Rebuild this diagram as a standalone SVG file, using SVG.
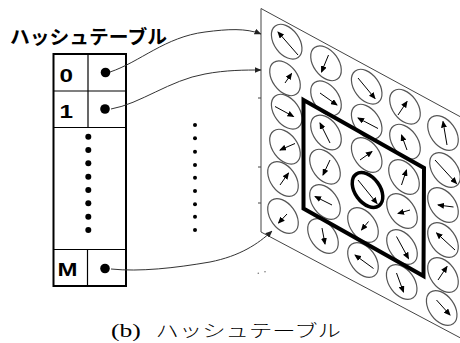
<svg xmlns="http://www.w3.org/2000/svg" xmlns:xlink="http://www.w3.org/1999/xlink" width="460" height="343" viewBox="0 0 460 343">
<style>
.tbl{fill:#fff;stroke:#000;stroke-width:2}
.div{stroke:#000;stroke-width:1.2;fill:none}
.lbl{font-family:"Liberation Sans",Arial,sans-serif;font-weight:bold;font-size:18.5px;fill:#000}
.cell{fill:none;stroke:#555;stroke-width:1.2}
.spin{stroke:#000;stroke-width:1;fill:none;marker-end:url(#ah)}
.conn{stroke:#333;stroke-width:1;fill:none;marker-end:url(#ah2)}
.edge{stroke:#444;stroke-width:1;fill:none}
.title{font-family:"Noto Sans CJK JP","Noto Sans",sans-serif;font-weight:bold;font-size:19px;fill:#000}
.capl{font-family:"Liberation Serif",serif;font-size:19px}
.capj{font-family:"Noto Sans CJK JP",sans-serif;font-weight:300;font-size:17.3px}
</style>
<defs>
<marker id="ah" markerUnits="userSpaceOnUse" markerWidth="7" markerHeight="6" refX="6" refY="3" orient="auto" viewBox="0 0 7 6">
<path d="M0,0 L7,3 L0,6 z" fill="#000"/>
</marker>
<marker id="ah2" markerUnits="userSpaceOnUse" markerWidth="7" markerHeight="6" refX="6.5" refY="3" orient="auto" viewBox="0 0 7 6">
<path d="M0,0 L7,3 L0,6 z" fill="#222"/>
</marker>
<ellipse id="cellshape" cx="0" cy="0" rx="19.5" ry="12.5" transform="rotate(54)"/>
</defs>

<text class="title" x="10" y="44" textLength="157" lengthAdjust="spacingAndGlyphs">ハッシュテーブル</text>

<g id="hash-table">
<rect class="tbl" x="53.5" y="54" width="72.5" height="232"/>
<line class="div" x1="53.5" y1="91" x2="126" y2="91"/>
<line class="div" x1="53.5" y1="127.5" x2="126" y2="127.5"/>
<line class="div" x1="88" y1="54" x2="88" y2="127.5"/>
<line class="div" x1="53.5" y1="249.5" x2="126" y2="249.5"/>
<line class="div" x1="87.5" y1="249.5" x2="87.5" y2="286"/>
<text class="lbl" x="59.5" y="81.5" textLength="13.5" lengthAdjust="spacingAndGlyphs">0</text>
<text class="lbl" x="59.5" y="117.5" textLength="13.5" lengthAdjust="spacingAndGlyphs">1</text>
<text class="lbl" x="57.5" y="276" textLength="20" lengthAdjust="spacingAndGlyphs">M</text>
<circle cx="105.5" cy="72.5" r="4.8"/>
<circle cx="105" cy="109" r="4.8"/>
<circle cx="105" cy="268.5" r="4.8"/>
<g fill="#000">
<circle cx="88.3" cy="136.7" r="3"/>
<circle cx="88.3" cy="150" r="3"/>
<circle cx="88.3" cy="163.3" r="3"/>
<circle cx="88.3" cy="176.7" r="3"/>
<circle cx="88.3" cy="190" r="3"/>
<circle cx="88.3" cy="203.3" r="3"/>
<circle cx="88.3" cy="216.7" r="3"/>
<circle cx="88.3" cy="230" r="3"/>
</g>
</g>

<g id="middle-dots" fill="#000">
<circle cx="195" cy="125" r="2"/>
<circle cx="195" cy="138.3" r="2"/>
<circle cx="195" cy="151.7" r="2"/>
<circle cx="195" cy="165" r="2"/>
<circle cx="195" cy="177.7" r="2"/>
<circle cx="195" cy="191" r="2"/>
<circle cx="195" cy="204.3" r="2"/>
<circle cx="195" cy="216.7" r="2"/>
<circle cx="195" cy="230" r="2"/>
<circle cx="258.3" cy="273.3" r="0.8" fill="#777"/>
<circle cx="265" cy="271.7" r="0.8" fill="#777"/>
</g>

<g id="grid-panel">
<path class="edge" d="M470,122 L261,8.5 L261,232 L470,343"/>
<path class="edge" d="M258,98 H261 M258,167 H261 M258,203 H261"/>
<g class="cell">
<use xlink:href="#cellshape" x="286.7" y="41.7"/>
<use xlink:href="#cellshape" x="285" y="78.3"/>
<use xlink:href="#cellshape" x="286.7" y="111.7"/>
<use xlink:href="#cellshape" x="285" y="146.7"/>
<use xlink:href="#cellshape" x="283" y="179"/>
<use xlink:href="#cellshape" x="283" y="216"/>
<use xlink:href="#cellshape" x="326" y="63.3"/>
<use xlink:href="#cellshape" x="326" y="98.3"/>
<use xlink:href="#cellshape" x="326" y="132.5"/>
<use xlink:href="#cellshape" x="325" y="166.7"/>
<use xlink:href="#cellshape" x="325" y="202"/>
<use xlink:href="#cellshape" x="323" y="236"/>
<use xlink:href="#cellshape" x="366.7" y="86.7"/>
<use xlink:href="#cellshape" x="366.7" y="121.7"/>
<use xlink:href="#cellshape" x="366.7" y="155"/>
<use xlink:href="#cellshape" x="363" y="225"/>
<use xlink:href="#cellshape" x="363" y="260"/>
<use xlink:href="#cellshape" x="405" y="106.7"/>
<use xlink:href="#cellshape" x="405" y="141.7"/>
<use xlink:href="#cellshape" x="404" y="177"/>
<use xlink:href="#cellshape" x="402" y="211"/>
<use xlink:href="#cellshape" x="402" y="247"/>
<use xlink:href="#cellshape" x="401.7" y="282"/>
<use xlink:href="#cellshape" x="443" y="133"/>
<use xlink:href="#cellshape" x="445" y="170"/>
<use xlink:href="#cellshape" x="443" y="205"/>
<use xlink:href="#cellshape" x="443" y="240"/>
<use xlink:href="#cellshape" x="443" y="275"/>
<use xlink:href="#cellshape" x="441.7" y="308"/>
</g>
<use xlink:href="#cellshape" x="367.5" y="190" fill="none" stroke="#000" stroke-width="3.5"/>
<g class="spin">
<path d="M298,55 L278,32"/>
<path d="M285,83 L291.5,73.5"/>
<path d="M275,106.5 L293.5,116.5"/>
<path d="M295,143.5 L280,150"/>
<path d="M280,185 L288.5,173"/>
<path d="M287,214 L278.5,223"/>
<path d="M328.5,55 L321.5,72"/>
<path d="M320,93 L337,105"/>
<path d="M330,143 L320,123"/>
<path d="M330,160 L323,175"/>
<path d="M332,205 L315,196.5"/>
<path d="M322,228 L325,244"/>
<path d="M358,78 L375,98.5"/>
<path d="M378,128.5 L358,118"/>
<path d="M360,160 L372,151.5"/>
<path d="M358,180 L377,203.5"/>
<path d="M368.5,221.5 L361.5,230"/>
<path d="M373.5,268.5 L355,255"/>
<path d="M398,115 L407,101.5"/>
<path d="M407,150 L401.5,135"/>
<path d="M401.5,185 L406.5,170"/>
<path d="M410,210 L398,213.5"/>
<path d="M396.5,236.5 L408.5,258.5"/>
<path d="M396.5,273 L403.5,292"/>
<path d="M447,145 L443,121.5"/>
<path d="M435,160 L456.5,183.5"/>
<path d="M453.5,207 L438,205"/>
<path d="M455,250 L436.5,233"/>
<path d="M438,280 L447,266.5"/>
<path d="M436.5,300 L450,315"/>
</g>
<path d="M303.5,100 L424,168 L423.5,276 L303.5,208.5 Z" fill="none" stroke="#000" stroke-width="4" stroke-linejoin="miter"/>
</g>

<g id="connectors">
<path class="conn" d="M110,72 C140,62 165,37 205,32 C228,29 246,28 261,34"/>
<path class="conn" d="M111,109 C140,104 170,80 205,74 C226,70 245,70 261,70"/>
<path class="conn" d="M111,269 C140,272 175,268 210,262 C240,256 258,244 272,231"/>
</g>

<text transform="translate(111,337) scale(1.35,1)" fill="#000"><tspan class="capl" x="0">(b)</tspan><tspan class="capj" x="33">ハッシュテーブル</tspan></text>
</svg>
